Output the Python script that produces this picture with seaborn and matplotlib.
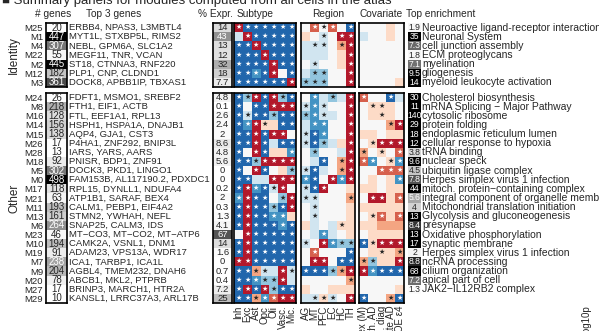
import numpy as np
import matplotlib
matplotlib.use("Agg")
import matplotlib.pyplot as plt
from matplotlib.colors import ListedColormap, LinearSegmentedColormap, PowerNorm, Normalize
from matplotlib.transforms import offset_copy
import seaborn as sns

sns.set_style("white")
plt.rcParams["font.family"] = ["Liberation Sans", "DejaVu Sans"]

# ---------------- data ----------------
id_modules = ["M25", "M1", "M4", "M22", "M2", "M12", "M3"]
other_modules = ["M24", "M8", "M16", "M14", "M15", "M26", "M28", "M18", "M5", "M0",
                 "M17", "M21", "M11", "M13", "M6", "M23", "M10", "M19", "M7", "M9",
                 "M20", "M27", "M29"]

id_genes = [20, 447, 307, 55, 445, 182, 361]
other_genes = [26, 218, 128, 156, 138, 17, 13, 92, 302, 498, 118, 63, 193, 161, 264,
               46, 194, 91, 238, 204, 78, 17, 10]

id_top3 = ["ERBB4, NPAS3, L3MBTL4", "MYT1L, STXBP5L, RIMS2", "NEBL, GPM6A, SLC1A2",
           "MEGF11, TNR, VCAN", "ST18, CTNNA3, RNF220", "PLP1, CNP, CLDND1",
           "DOCK8, APBB1IP, TBXAS1"]
other_top3 = ["FDFT1, MSMO1, SREBF2", "FTH1, EIF1, ACTB", "FTL, EEF1A1, RPL13",
              "HSPH1, HSPA1A, DNAJB1", "AQP4, GJA1, CST3", "P4HA1, ZNF292, BNIP3L",
              "IARS, YARS, AARS", "PNISR, BDP1, ZNF91", "DOCK3, PKD1, LINGO1",
              "FAM153B, AL117190.2, PDXDC1", "RPL15, DYNLL1, NDUFA4", "ATP1B1, SARAF, BEX4",
              "CALM1, PEBP1, EIF4A2", "STMN2, YWHAH, NEFL", "SNAP25, CALM3, IDS",
              "MT−CO3, MT−CO2, MT−ATP6", "CAMK2A, VSNL1, DNM1", "ADAM23, VPS13A, WDR17",
              "ICA1, TARBP1, ICA1L", "AGBL4, TMEM232, DNAH6", "ABCB1, MKL2, PTPRB",
              "BRINP3, MARCH1, HTR2A", "KANSL1, LRRC37A3, ARL17B"]

id_pct = [14, 43, 13, 12, 32, 18, 7.7]
other_pct = [4.8, 0.1, 2.6, 2.4, 2, 8.6, 4.8, 5.6, 0, 0, 0.2, 2, 0.3, 1.3, 4.1, 67,
             14, 1.6, 0, 0.7, 0.4, 7.2, 25]

subtypes = ["Inh", "Exc", "Ast", "Opc", "Oli", "Vasc.", "Mic."]
regions = ["AG", "MT", "PFC", "EC", "HC", "TH"]
covariates = ["Sex (M)", "Path. AD", "Clin. diag", "Late AD", "APOE ε4"]

# levels: -4 strong depletion (blue) ... +4 strong enrichment (red); '*' = significant
id_subtype = [[4, -4, -4, -4, -4, -4, -4], [-1, 4, -4, -4, -4, -4, -4],
              [-4, -4, 4, -4, -4, -4, -4], [-4, -4, -4, 4, -4, -4, -4],
              [-4, -4, -4, -4, 4, -4, -4], [-4, -4, -3, -4, 4, 0, -4],
              [-4, -4, -4, -4, -4, -4, 4]]
id_subtype_sig = ["*******", ".******", "*******", "*******", "*******", "*****.*", "*******"]
other_subtype = [[-4, -2, 4, -4, 4, -2, -4], [-4, 0, -4, -4, 4, 4, 4],
                 [-4, -1, -4, -4, -2, -4, -4], [-4, -3, 4, 1, 1, -4, -4],
                 [-4, -4, 4, -4, 4, 4, 0], [-4, -4, 4, -4, -1, -4, -4],
                 [-4, 0, 4, -4, 1, 1, -3], [-4, -4, -2, 4, 4, 4, 4],
                 [-4, 0, 4, -4, 0, 1, -2], [-4, -4, -1, -1, 4, 4, 4],
                 [-4, 4, -3, -4, -1, 4, 0], [-3, 4, -4, -4, 0, -2, 4],
                 [-4, 4, -4, -4, -2, -4, 4], [-4, 4, -4, -4, -3, -3, 1],
                 [-4, 4, -4, -4, -4, -3, -4], [0, 4, -4, -4, -4, -4, -4],
                 [-4, 4, -4, -4, -4, -4, -4], [-4, 4, -4, -4, -4, -4, -4],
                 [4, 4, -4, -4, -4, -4, -4], [-4, -4, 2, -1, -1, 4, -1],
                 [-4, -4, -3, -2, -2, 4, -1], [-4, 4, -4, 4, -2, -4, -4],
                 [-4, -4, 2, -3, 3, 4, 4]]
other_subtype_sig = ["*******", "*.*****", "*******", "****.**", "******.", "****.**",
                     "*.**..*", "*******", "*.**..*", "**..***", "******.", "****.**",
                     "*******", "******.", "*******", ".******", "*******", "*******",
                     "*******", "****.**", "******.", "*******", "*******"]

id_region = [[0, 3, 0, 3, 0, -4], [1, 0, -1, 0, 4, 4], [-1, -1, -1, 0, 2, 4],
             [-1, -1, -1, 0, 1, 4], [0, -1, 0, 0, 1, 4], [-1, -2, -2, 0, 0, 4],
             [-2, -2, -2, 0, 0, 4]]
id_region_sig = [".***.*", "..*.**", ".**.**", ".....*", ".*...*", ".**..*", "***..*"]
other_region = [[0, -3, -1, -2, -1, 4], [-1, -3, -1, 0, 0, 4], [-2, -3, -1, -1, 0, 4],
                [-1, -3, -3, 0, 0, 4], [-1, -4, -3, 0, 0, 4], [-1, -4, -2, -1, 1, 4],
                [0, -2, 0, 0, -1, 4], [0, -1, -4, 0, 2, 4], [-1, -4, -1, 0, 2, 4],
                [-3, -4, 0, 4, -3, 4], [-1, -4, 4, 0, 0, 1], [-1, -1, 0, 0, 0, 2],
                [0, -1, 0, 0, 0, 1], [0, -1, 0, 0, 0, 1], [1, -1, 0, -1, 1, 1],
                [0, -1, -3, -1, 0, 1], [-1, 0, 4, -3, -2, -2], [0, 3, 0, 0, 0, -4],
                [0, 4, 4, 0, -4, -4], [-4, -4, -4, -2, 2, 4], [0, 0, 0, 0, 0, 2],
                [1, 0, 0, 1, 1, 1], [-1, -1, 1, -1, 0, 4]]
other_region_sig = [".*.*.*", "***..*", "***..*", ".**..*", "***..*", "***..*", ".*...*",
                    "..*.**", "**..**", "**.***", "***...", "**...*", ".*....", ".*....",
                    "....*.", "..*...", "*.****", ".*...*", ".**.**", "******", ".....*",
                    "......", ".***.*"]

id_cov = [[0, 0, 0, 1, 0], [-1, 0, 0, 1, 0], [0, 0, 0, 0, 0], [0, 0, 0, 0, 0],
          [0, 0, 0, 0, 0], [0, 0, 0, 0, 0], [0, 0, 0, 0, 1]]
id_cov_sig = ["....."] * 7
other_cov = [[3, 0, 0, -4, -1], [0, 1, 1, 1, 0], [0, 1, 1, 1, 0], [0, 0, 0, 2, 4],
             [1, 1, 0, 1, 1], [0, 1, 4, 4, 4], [2, 0, 1, 0, 3], [3, -3, 0, 1, -3],
             [0, 0, 3, 3, 3], [0, 1, 0, 1, -3], [1, 1, 0, 1, 1], [0, 4, 4, 1, 3],
             [1, 1, 1, 1, 1], [0, 1, 3, 1, 3], [1, 1, 2, 2, 2], [0, 1, 1, 1, 1],
             [-4, 1, 4, 4, 4], [0, 1, 1, 1, 2], [2, -2, 1, 1, 4], [4, -3, -4, -4, -4],
             [0, 0, 0, 0, 0], [0, 0, 0, 0, 1], [-4, 0, 0, 2, -4]]
other_cov_sig = ["*..*.", ".**..", "..*..", "...**", ".....", ".****", "*.*.*", "**.**",
                 "..***", "....*", ".....", ".**.*", ".....", ".**.*", ".....", ".....",
                 "*****", "..*.*", "**..*", "*****", ".....", ".....", "*..**"]

id_enrich = [1.9, 35, 7.3, 1.8, 7.1, 9.5, 14]
other_enrich = [30, 11, 140, 29, 18, 12, 3.8, 9.6, 4.5, 7.8, 44, 5.6, 4, 13, 8.4, 13,
                17, 2, 8.8, 68, 7.2, 1.3, np.nan]
id_terms = ["Neuroactive ligand-receptor interaction", "Neuronal System",
            "cell junction assembly", "ECM proteoglycans", "myelination", "gliogenesis",
            "myeloid leukocyte activation"]
other_terms = ["Cholesterol biosynthesis", "mRNA Splicing − Major Pathway",
               "cytosolic ribosome", "protein folding", "endoplasmic reticulum lumen",
               "cellular response to hypoxia", "tRNA binding", "nuclear speck",
               "ubiquitin ligase complex", "Herpes simplex virus 1 infection",
               "mitoch. protein−containing complex",
               "integral component of organelle membrane",
               "Mitochondrial translation initiation", "Glycolysis and gluconeogenesis",
               "presynapse", "Oxidative phosphorylation", "synaptic membrane",
               "Herpes simplex virus 1 infection", "ncRNA processing", "cilium organization",
               "apical part of cell", "JAK2−IL12RB2 complex", ""]

# ---------------- layout ----------------
W, H = 599, 331
fig = plt.figure(figsize=(W / 100, H / 100), dpi=100)
fig.patch.set_facecolor("white")


def px_axes(x0, x1, y0, y1):
    return fig.add_axes([x0 / W, 1 - y1 / H, (x1 - x0) / W, (y1 - y0) / H])


rdbu = ListedColormap(["#2166ac", "#4393c3", "#92c5de", "#d1e5f0", "#f7f7f7",
                       "#fddbc7", "#f4a582", "#d6604d", "#b2182b"])
greys = LinearSegmentedColormap.from_list("wk", ["white", "black"])


def fmt_num(v):
    if v != v:
        return ""
    if v >= 100:
        return f"{v:.0f}"
    return f"{v:.2g}"


def frame(ax, lw=1.2):
    for s in ax.spines.values():
        s.set_visible(True)
        s.set_linewidth(lw)
        s.set_color("black")


def star_panel(ax, vals, sig, labels=None):
    annot = np.array([["★" if c == "*" else "" for c in s] for s in sig])
    sns.heatmap(np.array(vals, dtype=float), ax=ax, cmap=rdbu, vmin=-4.5, vmax=4.5,
                cbar=False, annot=annot, fmt="", annot_kws={"fontsize": 5},
                xticklabels=labels if labels else False, yticklabels=False)
    ax.tick_params(length=0, pad=2)
    if labels:
        ax.set_xticklabels(labels, rotation=90, fontsize=7)
    frame(ax)


def grey_column(ax, vals, norm, frame_it=True, fs=7):
    arr = np.array(vals, dtype=float).reshape(-1, 1)
    annot = np.array([[fmt_num(v)] for v in vals])
    sns.heatmap(arr, ax=ax, cmap=greys, norm=norm, mask=np.isnan(arr), cbar=False,
                annot=annot, fmt="", annot_kws={"fontsize": fs},
                xticklabels=False, yticklabels=False)
    ax.tick_params(length=0, pad=2)
    if frame_it:
        frame(ax)


groups = [
    (23, 87, id_modules, id_genes, id_top3, id_pct, id_subtype, id_subtype_sig,
     id_region, id_region_sig, id_cov, id_cov_sig, id_enrich, id_terms, False),
    (93, 303, other_modules, other_genes, other_top3, other_pct, other_subtype,
     other_subtype_sig, other_region, other_region_sig, other_cov, other_cov_sig,
     other_enrich, other_terms, True),
]

for (y0, y1, mods, genes, top3, pct, sub, subsig, reg, regsig, cov, covsig,
     enr, terms, bottom) in groups:
    n = len(mods)
    ax = px_axes(46, 67, y0, y1)
    grey_column(ax, genes, PowerNorm(1.6, vmin=0, vmax=450, clip=True))
    ax.set_yticks(np.arange(n) + 0.5)
    ax.set_yticklabels(mods, fontsize=6.8, rotation=0)
    tr = offset_copy(ax.get_yaxis_transform(), fig=fig, x=2, units="dots")
    for i, g in enumerate(top3):
        ax.text(1.0, i + 0.5, g, transform=tr, fontsize=6.8, ha="left", va="center")

    ax = px_axes(213, 232, y0, y1)
    grey_column(ax, pct, Normalize(0, 100), fs=6.8)

    ax = px_axes(234, 296, y0, y1)
    star_panel(ax, sub, subsig, subtypes if bottom else None)
    ax = px_axes(301, 355, y0, y1)
    star_panel(ax, reg, regsig, regions if bottom else None)
    ax = px_axes(359, 404, y0, y1)
    star_panel(ax, cov, covsig, covariates if bottom else None)

    ax = px_axes(408, 421, y0, y1)
    grey_column(ax, enr, PowerNorm(2, vmin=0, vmax=9.5, clip=True), frame_it=False,
                fs=6.2)
    tr = offset_copy(ax.get_yaxis_transform(), fig=fig, x=1, units="dots")
    for i, t in enumerate(terms):
        ax.text(1.0, i + 0.5, t, transform=tr, fontsize=7.5, ha="left", va="center")

# headers and group labels
def ftext(x, y, s, **kw):
    fig.text(x / W, 1 - y / H, s, **kw)


ftext(2, 4, "■ Summary panels for modules computed from all cells in the atlas",
      fontsize=9.5, va="baseline", ha="left")
for x, s in [(35, "# genes"), (86, "Top 3 genes"), (198, "% Expr."), (237, "Subtype"),
             (312, "Region"), (359, "Covariate"), (406, "Top enrichment")]:
    ftext(x, 14, s, fontsize=7.3, va="center", ha="left")
ftext(14, 55, "Identity", fontsize=8.5, rotation=90, va="center", ha="center")
ftext(14, 198, "Other", fontsize=8.5, rotation=90, va="center", ha="center")
ftext(586, 305, "−log10p", fontsize=7, rotation=90, va="top", ha="center")

fig.savefig("out.png", dpi=100)
